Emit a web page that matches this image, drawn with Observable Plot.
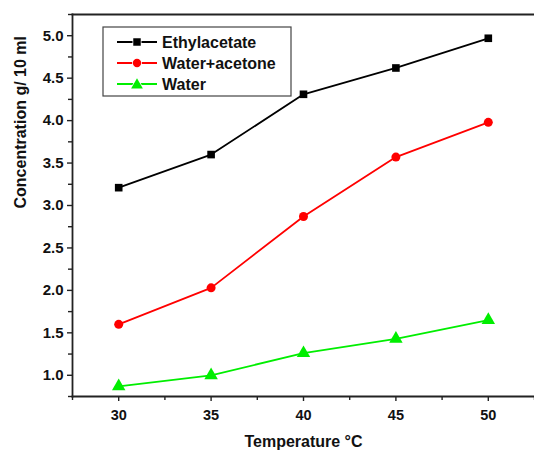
<!DOCTYPE html>
<html>
<head>
<meta charset="utf-8">
<script src="https://cdn.jsdelivr.net/npm/d3@7"></script>
<script src="https://cdn.jsdelivr.net/npm/@observablehq/plot@0.6"></script>
<style>
  body { margin: 0; background: #fff; }
  #chart svg { display: block; font-family: "Liberation Sans", Arial, sans-serif; }
</style>
</head>
<body>
<div id="chart"></div>
<script>
const temperatures = [30, 35, 40, 45, 50];
const ethylacetate = [3.21, 3.60, 4.31, 4.62, 4.97];
const waterAcetone = [1.60, 2.03, 2.87, 3.57, 3.98];
const water = [0.87, 1.00, 1.26, 1.43, 1.65];
const seriesNames = ["Ethylacetate", "Water+acetone", "Water"];
const seriesColors = ["#000000", "#ff0000", "#00ee00"];
const seriesSymbols = ["square", "circle", "triangle"];
const xTicks = [30, 35, 40, 45, 50];
const xMinorTicks = [27.5, 32.5, 37.5, 42.5, 47.5, 52.5];
const yTicks = [1.0, 1.5, 2.0, 2.5, 3.0, 3.5, 4.0, 4.5, 5.0];
const yMinorTicks = [0.75, 1.25, 1.75, 2.25, 2.75, 3.25, 3.75, 4.25, 4.75, 5.25];
const xTitle = "Temperature \u00B0C";
const yTitle = "Concentration g/ 10 ml";

const seriesValues = [ethylacetate, waterAcetone, water];
const rows = [];
seriesNames.forEach((name, i) => {
  temperatures.forEach((t, j) => rows.push({series: name, t, v: seriesValues[i][j]}));
});

const axisColor = "#222";
const plot = Plot.plot({
  width: 534,
  height: 452,
  marginLeft: 72,
  marginRight: 0,
  marginTop: 14,
  marginBottom: 56,
  style: {fontFamily: "'Liberation Sans', Arial, sans-serif", fontWeight: "bold", fontSize: "14px", color: "#111", background: "#fff", overflow: "visible"},
  x: {domain: [27.5, 52.5]},
  y: {domain: [0.75, 5.25]},
  color: {domain: seriesNames, range: seriesColors},
  symbol: {domain: seriesNames, range: seriesSymbols},
  marks: [
    Plot.axisX({ticks: xTicks, tickSize: 5, tickPadding: 8, tickFormat: d3.format("d"), label: null, stroke: axisColor, strokeWidth: 1.4, fontSize: 14.5}),
    Plot.axisX({ticks: xMinorTicks, tickSize: 4, tickFormat: () => "", label: null, stroke: axisColor, strokeWidth: 1.4}),
    Plot.axisY({ticks: yTicks, tickSize: 5, tickPadding: 4, tickFormat: d3.format(".1f"), label: null, stroke: axisColor, strokeWidth: 1.4, fontSize: 15}),
    Plot.axisY({ticks: yMinorTicks, tickSize: 4, tickFormat: () => "", label: null, stroke: axisColor, strokeWidth: 1.4}),
    Plot.frame({anchor: "left", stroke: axisColor, strokeWidth: 1.8}),
    Plot.frame({anchor: "bottom", stroke: axisColor, strokeWidth: 1.8}),
    Plot.frame({anchor: "top", stroke: axisColor, strokeWidth: 1.8}),
    Plot.line(rows, {x: "t", y: "v", z: "series", stroke: "series", strokeWidth: 1.8}),
    Plot.dot(rows.filter(d => d.series === seriesNames[0]), {x: "t", y: "v", symbol: "series", fill: "series", r: 4.3}),
    Plot.dot(rows.filter(d => d.series === seriesNames[1]), {x: "t", y: "v", symbol: "series", fill: "series", r: 4.5}),
    Plot.dot(rows.filter(d => d.series === seriesNames[2]), {x: "t", y: "v", symbol: "series", fill: "series", r: 5}),
    Plot.text([xTitle], {frameAnchor: "bottom", text: d => d, dy: 50, fontSize: 16, fontWeight: "bold", fill: "#111"}),
    Plot.text([yTitle], {frameAnchor: "left", text: d => d, rotate: -90, dx: -52, dy: 3, fontSize: 16, fontWeight: "bold", fill: "#111"})
  ]
});

document.getElementById("chart").appendChild(plot);

// Legend (inside plot area, top-left)
const svg = d3.select(plot);
const lg = svg.append("g").attr("transform", "translate(103,27)").attr("text-anchor", "start");
lg.append("rect").attr("width", 188).attr("height", 69).attr("fill", "#fff").attr("stroke", "#444").attr("stroke-width", 1.2);
seriesNames.forEach((name, i) => {
  const y = 15 + i * 21;
  const c = seriesColors[i];
  lg.append("line").attr("x1", 14).attr("x2", 54).attr("y1", y).attr("y2", y).attr("stroke", c).attr("stroke-width", 1.8);
  const sym = d3.symbol().type([d3.symbolSquare, d3.symbolCircle, d3.symbolTriangle][i]).size([56, 55, 60][i]);
  lg.append("path").attr("d", sym()).attr("transform", `translate(34,${y + (i === 2 ? 1 : 0)})`).attr("fill", c).attr("stroke", "#fff").attr("stroke-width", 1.5).attr("paint-order", "stroke");
  lg.append("text").attr("x", 59).attr("y", y).attr("dy", "0.36em").attr("text-anchor", "start").attr("font-size", 16).attr("font-weight", "bold").attr("fill", "#111").text(name);
});
</script>
</body>
</html>
